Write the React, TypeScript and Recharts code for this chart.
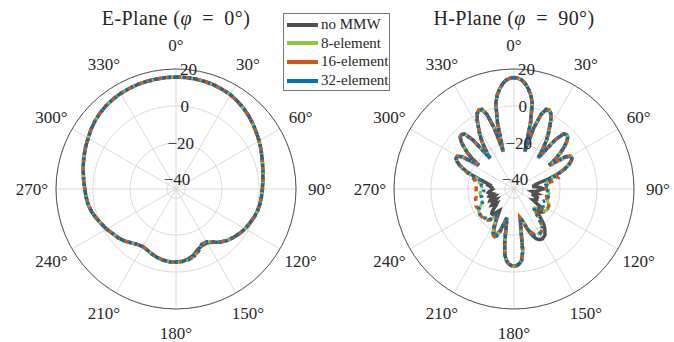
import React from 'react';
import { RadarChart, Radar, PolarGrid, PolarAngleAxis, PolarRadiusAxis } from 'recharts';

const FONT = '"Liberation Serif", "Times New Roman", serif';
const TEXT = '#262626';

// angle ticks (deg, clockwise from top) and radial ticks (dB)
const angleTicks = [0, 30, 60, 90, 120, 150, 180, 210, 240, 270, 300, 330];
const radiusTicks = [-40, -20, 0, 20];
const radiusDomain = [-45, 20];

// E-plane, every 5 deg
const eAngles = Array.from({ length: 72 }, (_, i) => i * 5);
const eArray = [
    15.6, 15.6, 15.5, 15.3, 15.0, 14.5, 14.0, 13.0, 12.0, 10.8,
    9.5, 8.2, 7.0, 5.8, 4.6, 3.6, 2.8, 2.2, 1.8, 1.5,
    1.2, 0.7, 0.0, -1.0, -1.8, -3.0, -4.3, -5.6, -7.5, -10.0,
    -12.0, -12.0, -9.3, -7.2, -6.0, -5.5, -5.3, -5.5, -5.8, -6.5,
    -7.4, -8.4, -9.0, -8.4, -7.0, -5.3, -4.0, -3.0, -1.6, -0.4,
    1.0, 2.4, 3.3, 3.9, 4.4, 5.2, 6.0, 7.0, 8.0, 9.0,
    10.0, 11.2, 12.3, 13.2, 13.9, 14.4, 14.8, 15.1, 15.3, 15.4,
    15.5, 15.6,
];
const eNoMmw = [
    15.6, 15.6, 15.5, 15.3, 15.0, 14.5, 14.0, 13.0, 12.0, 10.8,
    9.5, 8.2, 7.0, 5.8, 4.6, 3.6, 2.8, 2.2, 1.8, 1.5,
    1.2, 0.7, 0.0, -1.0, -1.8, -3.0, -4.3, -5.6, -7.5, -9.8,
    -11.3, -11.3, -10.3, -8.0, -6.5, -5.7, -5.4, -5.5, -5.8, -6.5,
    -7.4, -8.4, -9.0, -8.4, -7.0, -5.3, -4.0, -3.0, -1.6, -0.4,
    1.0, 2.4, 3.3, 3.9, 4.4, 5.2, 6.0, 7.0, 8.0, 9.0,
    10.0, 11.2, 12.3, 13.2, 13.9, 14.4, 14.8, 15.1, 15.3, 15.4,
    15.5, 15.6,
];

// H-plane, every 2 deg
const hAngles = Array.from({ length: 180 }, (_, i) => i * 2);
const hBlue = [
    15.4, 15.1, 14.2, 12.5, 10.0, 7.0, 2.5, -8.0, -24.0, -10.0,
    -2.0, 1.5, 1.8, 0.5, -2.5, -6.5, -10.0, -14.0, -19.0, -24.0,
    -10.0, -5.0, -4.0, -4.5, -6.5, -9.5, -13.0, -17.0, -22.0, -12.0,
    -9.5, -9.5, -10.5, -12.5, -15.0, -18.0, -21.0, -24.0, -26.0, -26.5,
    -27.0, -27.5, -27.0, -26.5, -26.5, -27.0, -27.0, -26.5, -26.0, -26.0,
    -26.0, -26.0, -26.0, -26.5, -26.5, -27.0, -27.5, -28.0, -28.0, -27.5,
    -27.0, -26.5, -26.0, -26.5, -27.5, -29.0, -30.0, -30.0, -29.0, -27.0,
    -24.0, -21.0, -19.0, -18.0, -17.5, -17.0, -17.0, -17.0, -17.5, -19.0,
    -21.0, -23.0, -26.0, -28.0, -29.0, -24.0, -11.0, -6.0, -4.3, -3.5,
    -3.3, -3.5, -4.3, -6.0, -9.0, -16.0, -25.0, -29.0, -26.0, -21.0,
    -18.0, -17.0, -17.5, -19.0, -22.0, -25.0, -27.0, -28.0, -26.0, -24.0,
    -23.0, -23.0, -23.0, -22.5, -22.0, -22.0, -22.0, -22.0, -22.0, -22.5,
    -23.0, -24.0, -25.0, -26.0, -27.0, -27.0, -27.0, -27.0, -27.0, -27.0,
    -27.0, -27.5, -28.0, -28.5, -28.5, -28.5, -28.5, -28.0, -27.5, -27.0,
    -26.0, -26.5, -26.0, -24.0, -21.0, -18.0, -15.0, -12.5, -10.5, -9.5,
    -9.5, -12.0, -22.0, -17.0, -13.0, -9.5, -6.5, -4.5, -4.0, -5.0,
    -10.0, -24.0, -19.0, -14.0, -10.0, -6.5, -2.5, 0.5, 1.8, 1.5,
    -2.0, -10.0, -24.0, -8.0, 2.5, 7.0, 10.0, 12.5, 14.2, 15.1,
];
const hOrange = [
    15.4, 15.1, 14.2, 12.5, 10.0, 7.0, 2.5, -8.0, -24.0, -10.0,
    -2.0, 1.5, 1.8, 0.5, -2.5, -6.5, -10.0, -14.0, -19.0, -24.0,
    -10.0, -5.0, -4.0, -4.5, -6.5, -9.5, -13.0, -17.0, -22.0, -12.0,
    -9.5, -9.5, -10.5, -12.5, -15.0, -18.0, -21.0, -21.0, -20.5, -23.0,
    -27.0, -28.0, -27.5, -27.5, -27.5, -27.5, -27.5, -27.5, -27.0, -27.0,
    -27.0, -27.0, -26.5, -26.5, -26.0, -26.0, -25.0, -24.5, -24.0, -24.0,
    -24.0, -25.0, -26.0, -27.0, -28.0, -29.0, -29.5, -29.0, -27.5, -25.5,
    -23.0, -21.0, -19.0, -18.0, -17.5, -17.0, -17.0, -17.5, -18.0, -19.5,
    -21.0, -23.0, -26.0, -28.0, -29.0, -24.0, -11.0, -6.0, -4.3, -3.5,
    -3.3, -3.5, -4.3, -6.0, -9.0, -16.0, -25.0, -29.0, -26.0, -21.0,
    -18.0, -17.0, -17.5, -19.0, -22.0, -25.0, -27.0, -28.0, -26.0, -24.0,
    -23.0, -23.0, -22.5, -22.0, -22.0, -22.0, -22.0, -22.0, -22.0, -22.5,
    -23.0, -23.0, -22.5, -22.5, -23.0, -23.0, -23.5, -23.5, -23.5, -24.0,
    -24.0, -24.0, -24.0, -24.5, -24.5, -24.5, -24.5, -24.5, -24.5, -24.5,
    -24.0, -23.5, -22.5, -21.0, -19.5, -17.5, -15.0, -12.5, -10.5, -9.5,
    -9.5, -12.0, -22.0, -17.0, -13.0, -9.5, -6.5, -4.5, -4.0, -5.0,
    -10.0, -24.0, -19.0, -14.0, -10.0, -6.5, -2.5, 0.5, 1.8, 1.5,
    -2.0, -10.0, -24.0, -8.0, 2.5, 7.0, 10.0, 12.5, 14.2, 15.1,
];
const hGreen = [
    15.4, 15.1, 14.2, 12.5, 10.0, 7.0, 2.5, -8.0, -24.0, -10.0,
    -2.0, 1.5, 1.8, 0.5, -2.5, -6.5, -10.0, -14.0, -19.0, -24.0,
    -10.0, -5.0, -4.0, -4.5, -6.5, -9.5, -13.0, -17.0, -22.0, -12.0,
    -9.5, -9.5, -10.5, -12.5, -15.0, -18.0, -21.0, -24.0, -26.0, -26.5,
    -27.0, -27.0, -26.5, -26.5, -26.5, -26.5, -26.5, -26.5, -26.0, -26.0,
    -26.0, -26.0, -26.5, -26.5, -26.0, -25.5, -25.0, -24.5, -24.0, -24.0,
    -24.0, -24.0, -24.0, -25.0, -27.0, -29.0, -30.0, -30.0, -29.0, -27.0,
    -24.0, -21.0, -19.0, -18.0, -17.5, -17.5, -17.5, -17.5, -18.0, -19.0,
    -21.0, -23.0, -26.0, -28.0, -29.0, -24.0, -11.0, -6.0, -4.3, -3.5,
    -3.3, -3.5, -4.3, -6.0, -9.0, -16.0, -25.0, -29.0, -26.0, -21.0,
    -18.5, -18.0, -18.0, -19.0, -22.0, -25.0, -27.0, -28.0, -26.0, -24.0,
    -23.0, -23.0, -23.0, -22.5, -22.0, -22.0, -22.0, -22.0, -22.0, -22.5,
    -23.0, -24.0, -25.0, -26.0, -26.5, -26.5, -26.5, -26.5, -26.5, -26.5,
    -26.5, -26.5, -26.5, -27.0, -27.0, -27.5, -27.5, -27.5, -27.0, -27.0,
    -26.0, -26.5, -26.0, -24.0, -21.0, -18.0, -15.0, -12.5, -10.5, -9.5,
    -9.5, -12.0, -22.0, -17.0, -13.0, -9.5, -6.5, -4.5, -4.0, -5.0,
    -10.0, -24.0, -19.0, -14.0, -10.0, -6.5, -2.5, 0.5, 1.8, 1.5,
    -2.0, -10.0, -24.0, -8.0, 2.5, 7.0, 10.0, 12.5, 14.2, 15.1,
];
const hNoMmw = [
    15.4, 15.1, 14.2, 12.5, 10.0, 7.0, 2.5, -8.0, -23.0, -10.0,
    -2.0, 1.5, 1.8, 0.5, -2.5, -6.5, -10.0, -14.0, -19.0, -23.0,
    -10.0, -5.0, -4.0, -4.5, -6.5, -9.5, -13.0, -17.0, -22.0, -12.0,
    -9.5, -9.5, -10.5, -12.5, -15.0, -18.0, -22.0, -26.0, -31.0, -33.0,
    -33.0, -35.0, -33.0, -31.5, -30.0, -29.0, -31.0, -31.5, -33.0, -35.0,
    -34.0, -32.0, -33.0, -35.0, -33.0, -31.5, -31.5, -32.0, -31.5, -32.0,
    -33.0, -31.0, -28.0, -26.0, -25.0, -25.5, -27.0, -28.0, -26.0, -23.0,
    -20.0, -18.0, -16.5, -15.0, -14.5, -14.0, -14.0, -14.5, -15.5, -17.5,
    -20.0, -23.0, -26.0, -28.0, -29.0, -24.0, -11.0, -6.0, -4.3, -3.5,
    -3.3, -3.5, -4.3, -6.0, -9.0, -16.0, -25.0, -29.0, -26.0, -22.0,
    -19.0, -18.0, -18.5, -20.0, -23.0, -26.0, -29.0, -31.0, -30.0, -28.0,
    -27.0, -27.0, -28.0, -30.0, -32.0, -33.0, -31.0, -30.0, -31.0, -33.0,
    -34.0, -32.0, -30.5, -31.0, -33.0, -34.0, -32.0, -31.0, -31.5, -33.0,
    -32.0, -31.0, -31.5, -32.5, -33.0, -33.5, -33.0, -33.0, -32.0, -31.0,
    -31.5, -30.0, -28.0, -25.0, -21.5, -18.0, -15.0, -12.5, -10.5, -9.5,
    -9.5, -12.0, -22.0, -17.0, -13.0, -9.5, -6.5, -4.5, -4.0, -5.0,
    -10.0, -23.0, -19.0, -14.0, -10.0, -6.5, -2.5, 0.5, 1.8, 1.5,
    -2.0, -10.0, -23.0, -8.0, 2.5, 7.0, 10.0, 12.5, 14.2, 15.1,
];

const eData = eAngles.map((angle, i) => ({
    angle,
    noMmw: eNoMmw[i],
    el8: eArray[i],
    el16: eArray[i],
    el32: eArray[i],
}));
const hData = hAngles.map((angle, i) => ({
    angle,
    noMmw: hNoMmw[i],
    el8: hGreen[i],
    el16: hOrange[i],
    el32: hBlue[i],
}));

const series = [
    { key: 'noMmw', name: 'no MMW', color: '#505050', width: 3.5, dash: undefined },
    { key: 'el8', name: '8-element', color: '#8dc63f', width: 3, dash: '7 3' },
    { key: 'el16', name: '16-element', color: '#d95319', width: 3.5, dash: '5 5' },
    { key: 'el32', name: '32-element', color: '#0072bd', width: 3.5, dash: '2.5 4' },
];

const fmtR = (v: number) => (v < 0 ? '\u2212' + Math.abs(v) : String(v));

const labelStyle = { fontFamily: FONT, fontSize: 17 };

function PolarPlot({ left, width, data, title, phi }: any) {
    return (
        <div style={{ position: 'absolute', left, top: 0, width, height: 342 }}>
            <div
                style={{
                    position: 'absolute',
                    left: 0,
                    width: 352,
                    top: 4,
                    textAlign: 'center',
                    fontFamily: FONT,
                    fontSize: 20,
                    letterSpacing: 0.4,
                    color: TEXT,
                    lineHeight: '28px',
                }}
            >
                {title} (<i>φ</i>&#8194;=&#8194;{phi}°)
            </div>
            <RadarChart
                width={width}
                height={342}
                data={data}
                cx={176}
                cy={189}
                outerRadius={120}
                startAngle={90}
                endAngle={-270}
                margin={{ top: 0, right: 0, bottom: 0, left: 0 }}
            >
                <PolarGrid gridType='circle' stroke='#d0d0d0' strokeWidth={0.8} />
                <PolarAngleAxis
                    dataKey='angle'
                    type='number'
                    domain={[0, 360]}
                    ticks={angleTicks}
                    axisLineType='circle'
                    axisLine={{ stroke: '#555555', strokeWidth: 1 }}
                    tickLine={false}
                    tickSize={24}
                    tick={(p: any) => (
                        <text
                            x={p.x}
                            y={p.y}
                            textAnchor='middle'
                            dominantBaseline='central'
                            style={labelStyle}
                            fill={TEXT}
                        >
                            {p.payload.value}°
                        </text>
                    )}
                />
                {series.map((s) => (
                    <Radar
                        key={s.key}
                        name={s.name}
                        dataKey={s.key}
                        stroke={s.color}
                        strokeWidth={s.width}
                        strokeDasharray={s.dash}
                        fill='none'
                        fillOpacity={0}
                        dot={false}
                        isAnimationActive={false}
                    />
                ))}
                <PolarRadiusAxis
                    angle={84}
                    type='number'
                    domain={radiusDomain}
                    ticks={radiusTicks}
                    axisLine={false}
                    tickLine={false}
                    tick={(p: any) => (
                        <text
                            x={p.x}
                            y={p.y}
                            textAnchor='middle'
                            dominantBaseline='central'
                            style={labelStyle}
                            fill={TEXT}
                        >
                            {fmtR(p.payload.value)}
                        </text>
                    )}
                />
            </RadarChart>
        </div>
    );
}

export default function App() {
    return (
        <div
            style={{
                position: 'absolute',
                left: 0,
                top: 0,
                width: 674,
                height: 342,
                overflow: 'hidden',
                background: '#fff',
            }}
        >
            <PolarPlot left={0} width={338} data={eData} title='E-Plane' phi='0' />
            <PolarPlot left={338} width={336} data={hData} title='H-Plane' phi='90' />
            <div
                style={{
                    position: 'absolute',
                    left: 283,
                    top: 13,
                    width: 105,
                    height: 76,
                    border: '1px solid #777',
                    background: '#fff',
                    fontFamily: FONT,
                    fontSize: 15,
                    color: TEXT,
                }}
            >
                {series.map((s, i) => (
                    <div
                        key={s.key}
                        style={{
                            position: 'absolute',
                            left: 3,
                            top: 1 + i * 18.7,
                            height: 19,
                            display: 'flex',
                            alignItems: 'center',
                            whiteSpace: 'nowrap',
                        }}
                    >
                        <span
                            style={{
                                display: 'inline-block',
                                width: 31,
                                height: 4,
                                background: s.color,
                                marginRight: 3,
                            }}
                        />
                        {s.name}
                    </div>
                ))}
            </div>
        </div>
    );
}
